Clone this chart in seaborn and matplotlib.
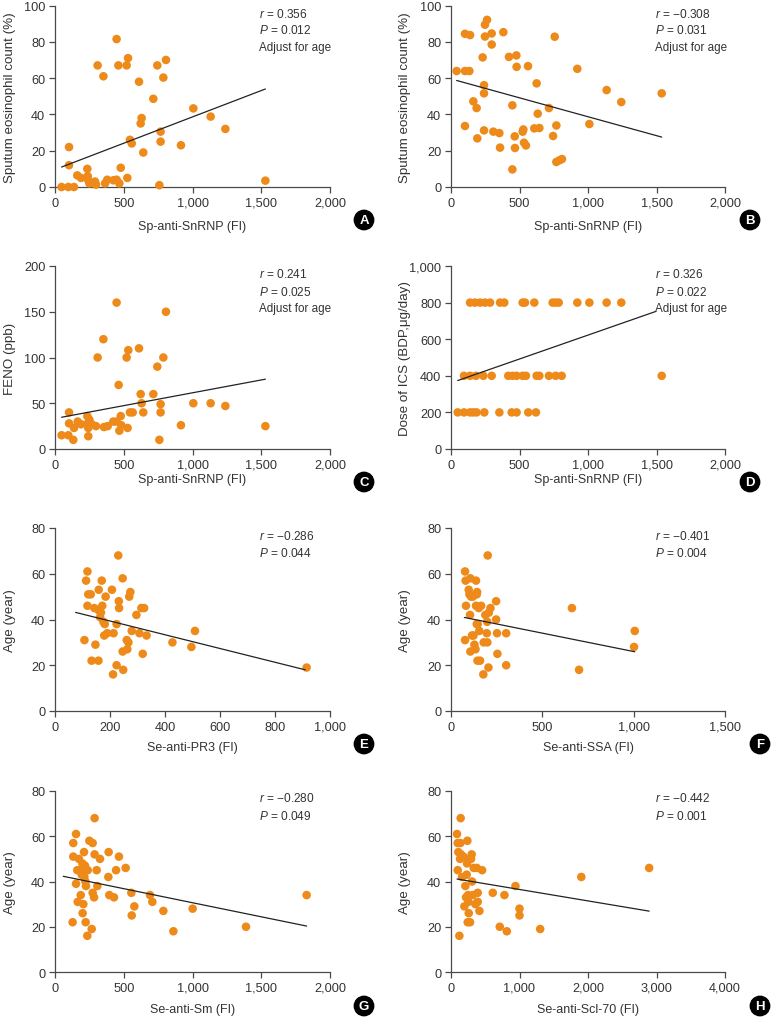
import numpy as np
import pandas as pd
import matplotlib
matplotlib.use("Agg")
import matplotlib.pyplot as plt
import seaborn as sns

# ---------------- data ----------------
a_x = [48, 97, 138, 102, 102, 162, 189, 235, 238, 242, 250, 291, 298, 310, 352, 364, 380, 424,
       448, 448, 461, 468, 478, 521, 531, 526, 545, 558, 611, 623, 630, 642, 715, 744, 759, 768,
       768, 788, 807, 916, 1006, 1132, 1239, 1530]
a_y = [0, 0, 0, 22, 12, 6.4, 5, 10, 6, 3.7, 2, 3, 1.3, 67, 61, 2, 4, 3.7,
       81.5, 4, 67, 2, 10.6, 67, 71, 5, 26, 24, 58, 35, 38, 19, 48.6, 67, 1, 30.5,
       25, 60.3, 70, 23, 43.3, 38.8, 32, 3.5]
a_line_x = [48, 1530]
a_line_y = [11, 54]

b_x = [41, 102, 134, 102, 139, 102, 163, 187, 192, 231, 241, 241, 241, 248, 248, 263, 297, 297,
       309, 353, 382, 358, 423, 448, 465, 467, 477, 479, 448, 523, 528, 533, 547, 562, 608, 625,
       633, 645, 715, 745, 757, 769, 769, 791, 810, 922, 1010, 1136, 1243, 1538]
b_y = [63.9, 63.9, 63.9, 84.4, 83.7, 33.6, 47.2, 43.5, 26.8, 71.4, 56.1, 51.6, 31.2, 82.9, 89.4,
       92.1, 84.6, 78.5, 30.5, 29.7, 85.3, 21.7, 71.7, 45, 27.9, 21.5, 72.5, 66.2, 9.7, 30.5, 31.7,
       24.4, 22.9, 66.6, 32.3, 57.1, 40.4, 32.5, 43.5, 28.1, 82.8, 33.9, 13.8, 14.7, 15.4, 65.1,
       34.7, 53.4, 46.8, 51.6]
b_line_x = [41, 1538]
b_line_y = [58.7, 27.5]

c_x = [48, 97, 102, 102, 133, 138, 165, 189, 235, 242, 238, 250, 242, 267, 298, 310, 352, 356,
       383, 424, 448, 448, 463, 468, 478, 482, 521, 528, 533, 545, 565, 611, 623, 630, 642, 715,
       744, 759, 768, 768, 788, 807, 916, 1006, 1132, 1239, 1530]
c_y = [15, 15, 40, 28, 10, 23, 30, 27, 36, 23, 28, 32, 14, 27, 25, 100, 120, 24,
       25, 30, 160, 30, 70, 20, 36, 26, 100, 23, 108, 40, 40, 110, 60, 50, 40, 60,
       90, 10, 49, 40, 100, 150, 26, 50, 50, 47, 25]
c_line_x = [48, 1530]
c_line_y = [34.7, 76.3]

d_x = [139, 175, 212, 248, 285, 358, 389, 523, 540, 608, 742, 764, 786, 922, 1010, 1136, 1243,
       95, 139, 182, 236, 297, 418, 450, 479, 523, 547, 625, 645, 715, 764, 808, 1538,
       49, 95, 139, 163, 187, 243, 353, 443, 479, 564, 620]
d_y = [800] * 17 + [400] * 16 + [200] * 11
d_line_x = [49, 1496]
d_line_y = [374, 752]

e_x = [107, 113, 118, 118, 121, 130, 133, 143, 147, 158, 159, 159, 167, 170, 172, 164, 176, 179,
       181, 184, 190, 207, 211, 213, 224, 224, 230, 232, 233, 246, 246, 248, 261, 263, 267, 270,
       274, 279, 296, 307, 314, 319, 324, 333, 427, 496, 509, 915]
e_y = [31, 57, 61, 46, 51, 51, 22, 45, 29, 22, 53, 44, 43, 57, 46, 41, 39, 33,
       38, 50, 34, 53, 16, 34, 20, 38, 68, 48, 45, 58, 26, 18, 31, 27, 30, 50,
       52, 35, 42, 34, 45, 25, 45, 33, 30, 28, 35, 19]
e_line_x = [75, 910]
e_line_y = [43.1, 18]

f_x = [77, 80, 82, 77, 97, 101, 104, 106, 106, 110, 115, 119, 123, 128, 134, 137, 137, 141, 141,
       143, 145, 146, 152, 155, 159, 165, 177, 179, 188, 196, 198, 199, 201, 205, 207, 216, 247,
       247, 252, 254, 302, 302, 662, 701, 1002, 1006]
f_y = [61, 57, 46, 31, 53, 51, 42, 58, 26, 50, 33, 50, 33, 29, 27, 57, 46, 51, 38,
       52, 22, 38, 45, 35, 22, 46, 16, 30, 42, 34, 39, 30, 68, 19, 43, 45, 48,
       40, 34, 25, 34, 20, 45, 18, 28, 35]
f_line_x = [73, 1006]
f_line_y = [40.9, 25.9]

g_x = [128, 133, 133, 153, 153, 162, 165, 174, 182, 187, 194, 199, 201, 206, 211, 213, 218, 221,
       223, 225, 235, 238, 250, 267, 274, 274, 284, 288, 288, 303, 308, 327, 388, 390, 395, 429,
       444, 465, 514, 555, 558, 577, 691, 708, 788, 861, 1001, 1389, 1830]
g_y = [22, 57, 51, 61, 39, 45, 31, 50, 45, 34, 43, 48, 26, 30, 53, 42, 47, 40,
       22, 38, 16, 45, 58, 19, 57, 35, 33, 68, 52, 45, 38, 50, 42, 53, 34, 33,
       45, 51, 46, 35, 25, 29, 34, 31, 27, 18, 28, 20, 34]
g_line_x = [60, 1830]
g_line_y = [42.3, 20.3]

h_x = [88, 98, 98, 107, 122, 132, 137, 141, 146, 161, 180, 195, 210, 220, 229, 234, 239, 244,
       249, 254, 259, 268, 278, 293, 302, 307, 317, 332, 356, 376, 390, 390, 415, 454, 610, 712,
       780, 815, 941, 1000, 1000, 1302, 1902, 2893]
h_y = [61, 57, 45, 53, 16, 50, 57, 68, 52, 42, 51, 29, 38, 33, 43, 48, 58, 22,
       34, 31, 26, 50, 22, 50, 52, 40, 34, 46, 30, 46, 35, 31, 27, 45, 35, 20,
       34, 18, 38, 28, 25, 19, 42, 46]
h_line_x = [88, 2893]
h_line_y = [41.1, 26.9]

x_labels = ["Sp-anti-SnRNP (FI)", "Sp-anti-SnRNP (FI)", "Sp-anti-SnRNP (FI)", "Sp-anti-SnRNP (FI)",
            "Se-anti-PR3 (FI)", "Se-anti-SSA (FI)", "Se-anti-Sm (FI)", "Se-anti-Scl-70 (FI)"]
y_labels = ["Sputum eosinophil count (%)", "Sputum eosinophil count (%)", "FENO (ppb)",
            "Dose of ICS (BDP,\u03bcg/day)", "Age (year)", "Age (year)", "Age (year)", "Age (year)"]
r_values = ["0.356", "\u22120.308", "0.241", "0.326", "\u22120.286", "\u22120.401", "\u22120.280", "\u22120.442"]
p_values = ["0.012", "0.031", "0.025", "0.022", "0.044", "0.004", "0.049", "0.001"]
adjusted = [True, True, True, True, False, False, False, False]
panel_letters = ["A", "B", "C", "D", "E", "F", "G", "H"]
x_maxes = [2000, 2000, 2000, 2000, 1000, 1500, 2000, 4000]
x_steps = [500, 500, 500, 500, 200, 500, 500, 1000]
y_maxes = [100, 100, 200, 1000, 80, 80, 80, 80]
y_steps = [20, 20, 50, 200, 20, 20, 20, 20]

# ---------------- style ----------------
sns.set_theme(style="ticks")
plt.rcParams["font.family"] = ["Liberation Sans", "DejaVu Sans"]
plt.rcParams["mathtext.fontset"] = "custom"
plt.rcParams["mathtext.it"] = "Liberation Sans:italic"
plt.rcParams["mathtext.rm"] = "Liberation Sans"

ORANGE = "#EE8A1A"
GRAY = "#4a4a4a"
TXT = "#333333"

W, H = 773, 1020
fig = plt.figure(figsize=(W / 100, H / 100), dpi=100)

cols = [(55, 330), (451, 725)]
rows = [(6.5, 188), (267, 450), (529, 712), (792, 973)]

datasets = [(a_x, a_y, a_line_x, a_line_y), (b_x, b_y, b_line_x, b_line_y),
            (c_x, c_y, c_line_x, c_line_y), (d_x, d_y, d_line_x, d_line_y),
            (e_x, e_y, e_line_x, e_line_y), (f_x, f_y, f_line_x, f_line_y),
            (g_x, g_y, g_line_x, g_line_y), (h_x, h_y, h_line_x, h_line_y)]

for i, (xs, ys, lx, ly) in enumerate(datasets):
    r, c = divmod(i, 2)
    L, R = cols[c]
    T, B = rows[r]
    ax = fig.add_axes([L / W, 1 - B / H, (R - L) / W, (B - T) / H])
    df = pd.DataFrame({"x": xs, "y": ys})
    sns.scatterplot(data=df, x="x", y="y", ax=ax, color=ORANGE, s=38,
                    edgecolor="none", linewidth=0, clip_on=False, zorder=3)
    ldf = pd.DataFrame({"x": lx, "y": ly})
    sns.lineplot(data=ldf, x="x", y="y", ax=ax, color="#222222", linewidth=0.9, zorder=4)
    ax.set_xlim(0, x_maxes[i])
    ax.set_ylim(0, y_maxes[i])
    ax.set_xticks(np.arange(0, x_maxes[i] + 1, x_steps[i]))
    ax.set_yticks(np.arange(0, y_maxes[i] + 1, y_steps[i]))
    ax.xaxis.set_major_formatter(matplotlib.ticker.FuncFormatter(lambda v, p: f"{int(v):,}"))
    ax.yaxis.set_major_formatter(matplotlib.ticker.FuncFormatter(lambda v, p: f"{int(v):,}"))
    for s in ["top", "right"]:
        ax.spines[s].set_visible(False)
    for s in ["left", "bottom"]:
        ax.spines[s].set_color(GRAY)
        ax.spines[s].set_linewidth(0.9)
    ax.tick_params(axis="both", direction="out", length=4, width=0.9, color=GRAY,
                   labelsize=9.2, labelcolor=TXT, pad=3)
    ax.set_facecolor("none")

    ax.set_xlabel(x_labels[i], fontsize=9.0, color=TXT)
    ax.set_ylabel(y_labels[i], fontsize=9.6, color=TXT)
    xl_y = [227, 480, 748, 1010][r]
    ax.xaxis.set_label_coords(0.5, (B - xl_y) / (B - T))
    ax.xaxis.label.set_va("center")
    yl_x = [10, 405][c]
    ax.yaxis.set_label_coords((yl_x - L) / (R - L), 0.5)
    ax.yaxis.label.set_va("center")

    tx = [259, 655][c]
    ty0 = [14, 275, 537, 799][r]
    fig.text(tx / W, 1 - ty0 / H, f"$r$ = {r_values[i]}", fontsize=8.6, color=TXT,
             ha="left", va="center")
    fig.text(tx / W, 1 - (ty0 + 17) / H, f"$P$ = {p_values[i]}", fontsize=8.6, color=TXT,
             ha="left", va="center")
    if adjusted[i]:
        fig.text(tx / W, 1 - (ty0 + 34) / H, "Adjust for age", fontsize=8.4, color=TXT,
                 ha="left", va="center")

    cx = [364, 750][c] if r < 2 else [364, 760][c]
    cy = [221, 483, 745, 1007][r]
    fig.text(cx / W, 1 - cy / H, panel_letters[i], fontsize=9.5, fontweight="bold",
             color="white", ha="center", va="center",
             bbox=dict(boxstyle="circle,pad=0.28", fc="black", ec="black"))

fig.savefig("out.png", dpi=100)
